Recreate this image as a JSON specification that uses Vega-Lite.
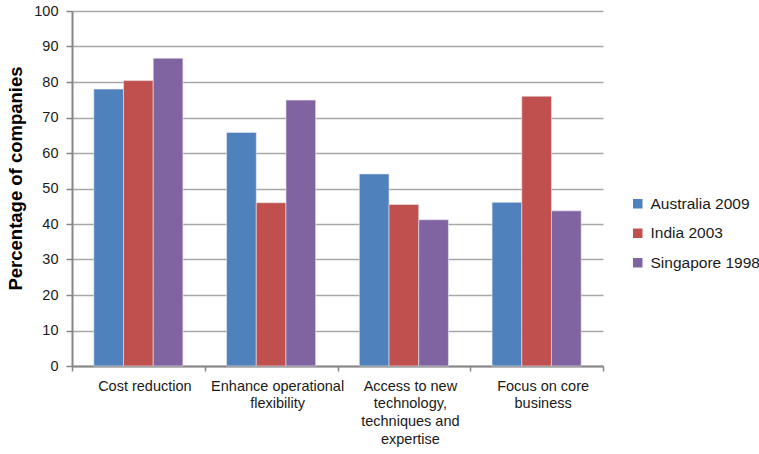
{
  "$schema": "https://vega.github.io/schema/vega-lite/v6.json",
  "width": 531,
  "height": 355,
  "autosize": {"type": "none"},
  "padding": {"left": 72, "top": 11, "right": 156, "bottom": 88},
  "background": "white",
  "config": {
    "font": "Liberation Sans",
    "view": {"stroke": null}
  },
  "data": {
    "values": [
      {"reason": "Cost reduction", "survey": "Australia 2009", "pct": 78.0},
      {"reason": "Cost reduction", "survey": "India 2003", "pct": 80.4},
      {"reason": "Cost reduction", "survey": "Singapore 1998", "pct": 86.7},
      {"reason": "Enhance operational flexibility", "survey": "Australia 2009", "pct": 65.8},
      {"reason": "Enhance operational flexibility", "survey": "India 2003", "pct": 46.0},
      {"reason": "Enhance operational flexibility", "survey": "Singapore 1998", "pct": 74.9},
      {"reason": "Access to new technology, techniques and expertise", "survey": "Australia 2009", "pct": 54.1},
      {"reason": "Access to new technology, techniques and expertise", "survey": "India 2003", "pct": 45.5},
      {"reason": "Access to new technology, techniques and expertise", "survey": "Singapore 1998", "pct": 41.2},
      {"reason": "Focus on core business", "survey": "Australia 2009", "pct": 46.1},
      {"reason": "Focus on core business", "survey": "India 2003", "pct": 76.0},
      {"reason": "Focus on core business", "survey": "Singapore 1998", "pct": 43.7}
    ]
  },
  "mark": {"type": "bar", "stroke": "#e8e8f0", "strokeWidth": 0.6},
  "encoding": {
    "x": {
      "field": "reason",
      "type": "nominal",
      "sort": null,
      "scale": {"paddingInner": 0, "paddingOuter": 0},
      "axis": {
        "title": null,
        "labelAngle": 0,
        "labelFontSize": 14.5,
        "labelColor": "#1a1a1a",
        "labelPadding": 8,
        "labelOffset": 6,
        "labelLineHeight": 17.8,
        "labelBaseline": "top",
        "labelExpr": "datum.value == 'Enhance operational flexibility' ? ['Enhance operational', 'flexibility'] : datum.value == 'Access to new technology, techniques and expertise' ? ['Access to new', 'technology,', 'techniques and', 'expertise'] : datum.value == 'Focus on core business' ? ['Focus on core', 'business'] : datum.value",
        "tickBand": "extent",
        "tickColor": "#868686",
        "tickSize": 5,
        "tickWidth": 1.5,
        "domainColor": "#868686",
        "domainWidth": 2,
        "grid": false
      }
    },
    "xOffset": {
      "field": "survey",
      "type": "nominal",
      "scale": {"paddingInner": 0, "paddingOuter": 0.735}
    },
    "y": {
      "field": "pct",
      "type": "quantitative",
      "scale": {"domain": [0, 100], "nice": false},
      "axis": {
        "title": "Percentage of companies",
        "titleFontSize": 18.5,
        "titleFontWeight": "bold",
        "titleColor": "#000000",
        "titlePadding": 8,
        "titleY": 167,
        "values": [0, 10, 20, 30, 40, 50, 60, 70, 80, 90, 100],
        "labelFontSize": 14.5,
        "labelColor": "#1a1a1a",
        "labelPadding": 8,
        "tickColor": "#868686",
        "tickSize": 6,
        "tickWidth": 1.5,
        "domainColor": "#868686",
        "domainWidth": 2,
        "gridColor": "#a8a8a8",
        "gridWidth": 1.5
      }
    },
    "color": {
      "field": "survey",
      "type": "nominal",
      "scale": {
        "domain": ["Australia 2009", "India 2003", "Singapore 1998"],
        "range": ["#4f81bd", "#c0504d", "#8064a2"]
      },
      "legend": {
        "title": null,
        "orient": "none",
        "legendX": 558,
        "legendY": 185,
        "symbolType": "square",
        "symbolSize": 90,
        "symbolStrokeWidth": 0,
        "labelFontSize": 15.5,
        "labelColor": "#1a1a1a",
        "labelOffset": 5,
        "rowPadding": 12.5
      }
    }
  }
}
